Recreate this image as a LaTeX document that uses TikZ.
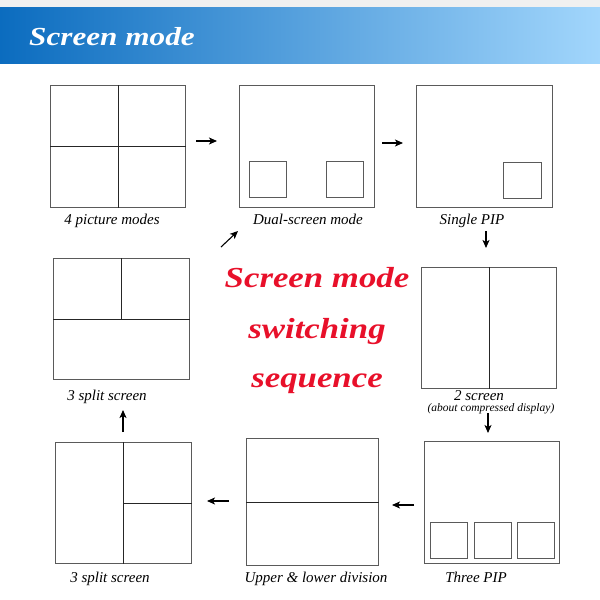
\documentclass[tikz,border=0pt]{standalone}
\usepackage{fontspec}
\setmainfont{Liberation Serif}
\newfontfamily\headfont[FakeStretch=1.2]{Liberation Serif}
\usepackage{xcolor}
\usetikzlibrary{arrows.meta}
\definecolor{bandDark}{HTML}{0B6CBF}
\definecolor{bandLight}{HTML}{A2D6FC}
\definecolor{seqRed}{HTML}{E8102A}
\definecolor{frameGray}{HTML}{5A5A5A}
\tikzset{
    screen-box/.style = {draw=frameGray, line width=0.9pt, rectangle, anchor=north west, inner sep=0pt},
    pip-box/.style = {screen-box, minimum width=37pt, minimum height=36pt},
    divider/.style = {draw=black!85, line width=0.8pt},
    mode-label/.style = {anchor=base, inner sep=0pt, font=\fontsize{15}{15}\selectfont\itshape},
    small-label/.style = {anchor=base, inner sep=0pt, font=\fontsize{11.5}{11.5}\selectfont\itshape},
    seq-text/.style = {anchor=base, inner sep=0pt, text=seqRed, font=\headfont\fontsize{29}{29}\selectfont\bfseries\itshape},
    step-arrow/.style = {-{Stealth[length=8pt,width=7pt,inset=2pt]}, line width=1.1pt},
}

\begin{document}
\begin{tikzpicture}[x=1pt, y=-1pt]
\useasboundingbox (0,0) rectangle (600,600);
% header band
\fill[gray!12] (0,0) rectangle (600,7.5);
\shade[left color=bandDark, right color=bandLight] (0,7.5) rectangle (600,63);
\node[anchor=base west, inner sep=0pt, text=white, font=\headfont\fontsize{26}{26}\selectfont\bfseries\itshape] (title) at (29,45) {Screen mode};

% top row
\node[screen-box, minimum width=135pt, minimum height=122pt] (quad) at (50,85) {};
\draw[divider] (quad.north) -- (quad.south);
\draw[divider] (quad.west) -- (quad.east);
\node[mode-label] (quad-label) at (112,224) {4 picture modes};

\node[screen-box, minimum width=135pt, minimum height=122pt] (dual) at (239,85) {};
\node[pip-box] (dual-left) at (249,161) {};
\node[pip-box] (dual-right) at (326,161) {};
\node[mode-label] (dual-label) at (308,224) {Dual-screen mode};

\node[screen-box, minimum width=136pt, minimum height=122pt] (single) at (416,85) {};
\node[pip-box, minimum width=38pt] (single-pip) at (503,162) {};
\node[mode-label] (single-label) at (472,224) {Single PIP};

% middle row
\node[screen-box, minimum width=136pt, minimum height=121pt] (split-top) at (53,258) {};
\draw[divider] (split-top.west) -- (split-top.east);
\draw[divider] (split-top.north) -- (split-top.center);
\node[mode-label] (split-top-label) at (107,400) {3 split screen};

\node[screen-box, minimum width=135pt, minimum height=121pt] (two) at (421,267) {};
\draw[divider] (two.north) -- (two.south);
\node[mode-label] (two-label) at (479,400) {2 screen};
\node[small-label] (two-note) at (491,411) {(about compressed display)};

\node[seq-text] (seq-a) at (317,287) {Screen mode};
\node[seq-text] (seq-b) at (317,338) {switching};
\node[seq-text] (seq-c) at (317,387) {sequence};

% bottom row
\node[screen-box, minimum width=136pt, minimum height=121pt] (split-low) at (55,442) {};
\draw[divider] (split-low.north) -- (split-low.south);
\draw[divider] (split-low.center) -- (split-low.east);
\node[mode-label] (split-low-label) at (110,582) {3 split screen};

\node[screen-box, minimum width=132pt, minimum height=127pt] (updown) at (246,438) {};
\draw[divider] (updown.west) -- (updown.east);
\node[mode-label] (updown-label) at (316,582) {Upper \& lower division};

\node[screen-box, minimum width=135pt, minimum height=122pt] (three) at (424,441) {};
\node[pip-box] (three-a) at (430,522) {};
\node[pip-box] (three-b) at (474,522) {};
\node[pip-box] (three-c) at (517,522) {};
\node[mode-label] (three-label) at (476,582) {Three PIP};

% arrows
\coordinate (s1) at (196,141); \coordinate (e1) at (217,141);
\coordinate (s2) at (382,143); \coordinate (e2) at (403,143);
\coordinate (s3) at (486,231); \coordinate (e3) at (486,248);
\coordinate (s4) at (488,413); \coordinate (e4) at (488,433);
\coordinate (s5) at (414,505); \coordinate (e5) at (392,505);
\coordinate (s6) at (229,501); \coordinate (e6) at (207,501);
\coordinate (s7) at (123,432); \coordinate (e7) at (123,410);
\coordinate (s8) at (221,247); \coordinate (e8) at (238,231);
\draw[step-arrow] (s1) -- (e1);
\draw[step-arrow] (s2) -- (e2);
\draw[step-arrow] (s3) -- (e3);
\draw[step-arrow] (s4) -- (e4);
\draw[step-arrow] (s5) -- (e5);
\draw[step-arrow] (s6) -- (e6);
\draw[step-arrow] (s7) -- (e7);
\draw[step-arrow] (s8) -- (e8);
\end{tikzpicture}
\end{document}
